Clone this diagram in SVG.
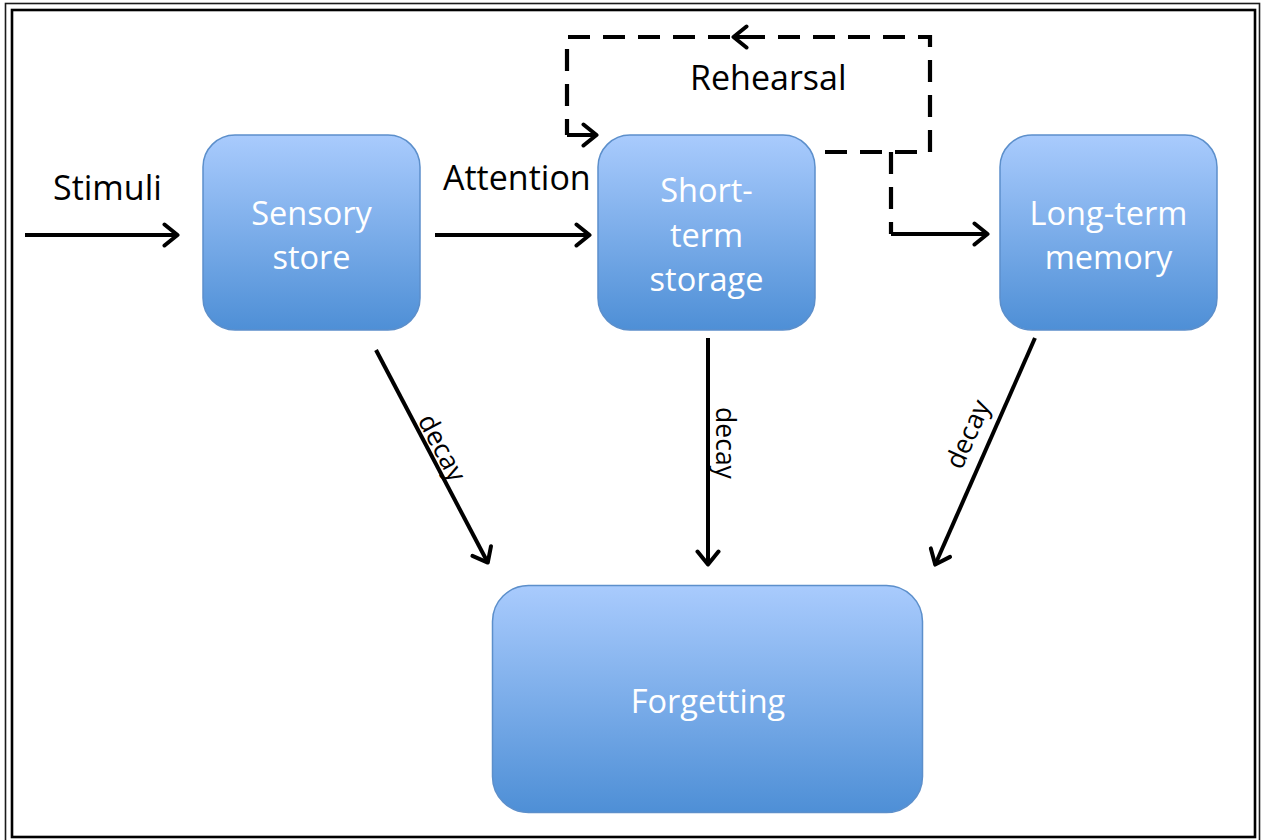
<svg xmlns="http://www.w3.org/2000/svg" width="1261" height="840" viewBox="0 0 1261 840">
  <defs>
    <linearGradient id="boxFill" x1="0" y1="0" x2="0" y2="1">
      <stop offset="0" stop-color="#a9cbfd"/>
      <stop offset="1" stop-color="#4e8fd6"/>
    </linearGradient>
    <marker id="open" viewBox="0 0 18 26" refX="16" refY="13" markerWidth="18" markerHeight="26" markerUnits="userSpaceOnUse" orient="auto">
      <path d="M2.5,2.5 L15.5,13 L2.5,23.5" fill="none" stroke="#000" stroke-width="4" stroke-linecap="round" stroke-linejoin="round"/>
    </marker>
    <style>
      .box { fill: url(#boxFill); stroke: #5c8fcb; stroke-width: 1.5; }
      .lbl { font-family: "Open Sans", "Liberation Sans", sans-serif; font-size: 32.5px; fill: #ffffff; text-anchor: middle; }
      .cap { font-family: "Open Sans", "Liberation Sans", sans-serif; font-size: 34px; fill: #000000; }
      .small { font-family: "Open Sans", "Liberation Sans", sans-serif; font-size: 26.5px; fill: #000000; text-anchor: middle; }
      .arrow { fill: none; stroke: #000; stroke-width: 4; marker-end: url(#open); }
      .dash { fill: none; stroke: #000; stroke-width: 4.2; stroke-dasharray: 22 13; }
    </style>
  </defs>

  <rect width="1261" height="840" fill="#ffffff"/>

  <!-- double frame -->
  <rect x="5.5" y="3.5" width="1254" height="840" fill="none" stroke="#1a1a1a" stroke-width="1.6"/>
  <rect x="12" y="10" width="1243" height="827" fill="none" stroke="#000" stroke-width="2.6"/>

  <!-- nodes -->
  <g id="sensory">
    <rect class="box" x="203" y="135" width="217" height="195" rx="32"/>
    <text class="lbl" x="311.5" y="225">Sensory</text>
    <text class="lbl" x="311.5" y="269">store</text>
  </g>
  <g id="short-term">
    <rect class="box" x="598" y="135" width="217" height="195" rx="32"/>
    <text class="lbl" x="706.5" y="202">Short-</text>
    <text class="lbl" x="706.5" y="247">term</text>
    <text class="lbl" x="706.5" y="291">storage</text>
  </g>
  <g id="long-term">
    <rect class="box" x="1000" y="135" width="217" height="195" rx="32"/>
    <text class="lbl" x="1108.5" y="225">Long-term</text>
    <text class="lbl" x="1108.5" y="269">memory</text>
  </g>
  <g id="forgetting">
    <rect class="box" x="492.5" y="585.5" width="430" height="227" rx="36"/>
    <text class="lbl" x="708" y="713">Forgetting</text>
  </g>

  <!-- connectors -->
  <g id="connectors">
    <path class="arrow" d="M25,235 H178"/>
    <path class="arrow" d="M435,235 H590"/>
    <path class="arrow" d="M891,234 H988"/>

    <path class="dash" d="M825,152 H930 V37 H567 V135"/>
    <path class="dash" d="M891,152 V234"/>
    <path class="arrow" d="M760,37 H733"/>
    <path class="arrow" d="M567,135 H597"/>

    <path class="arrow" d="M376,350 L488,563"/>
    <path class="arrow" d="M708,338 V565"/>
    <path class="arrow" d="M1035,338 L935,565"/>
  </g>

  <!-- edge labels -->
  <g id="labels">
    <text class="cap" x="53" y="200">Stimuli</text>
    <text class="cap" x="443" y="190">Attention</text>
    <text class="cap" x="690" y="90">Rehearsal</text>
    <text class="small" transform="translate(434,452) rotate(62)">decay</text>
    <text class="small" transform="translate(716,443) rotate(90)">decay</text>
    <text class="small" transform="translate(976,438) rotate(-66)">decay</text>
  </g>
</svg>
